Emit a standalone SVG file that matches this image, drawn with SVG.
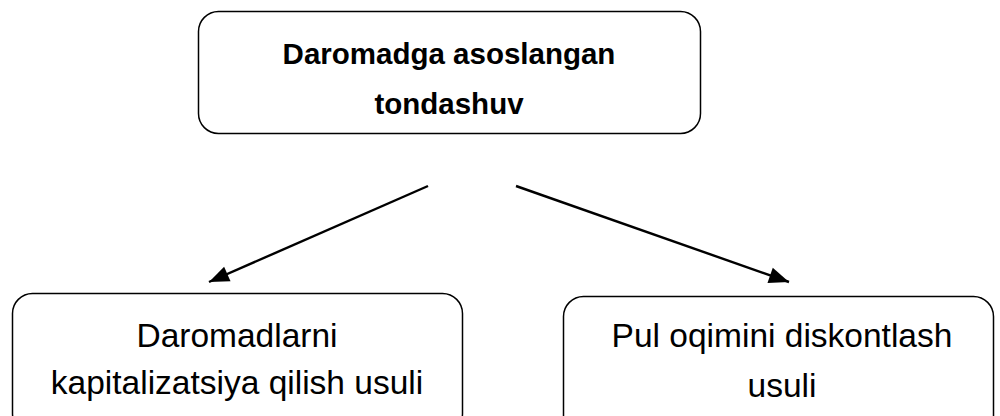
<svg xmlns="http://www.w3.org/2000/svg" width="1000" height="416" viewBox="0 0 1000 416">
<style>
.box{fill:#fff;stroke:#000;stroke-width:1.5}
.t{font-family:"Liberation Sans",Arial,sans-serif;fill:#000;text-anchor:middle}
.b{font-weight:bold;font-size:29.5px}
.r{font-size:33.5px}
.c{stroke:#000;stroke-width:2.4;fill:none;marker-end:url(#ah)}
</style>
<defs>
<marker id="ah" viewBox="0 0 10 10" refX="9" refY="5" markerWidth="10" markerHeight="10" markerUnits="userSpaceOnUse" orient="auto" style="overflow:visible">
<path d="M-11,-3 L9,5 L-11,13 z" fill="#000"/>
</marker>
</defs>
<rect width="1000" height="416" fill="#fff"/>
<g id="top">
<rect class="box" x="198.5" y="11.5" width="502" height="122" rx="20"/>
<text class="t b" x="449" y="64">Daromadga asoslangan</text>
<text class="t b" x="449" y="114">tondashuv</text>
</g>
<g id="left">
<rect class="box" x="12.5" y="293.5" width="450" height="140" rx="20"/>
<text class="t r" x="237" y="347">Daromadlarni</text>
<text class="t r" x="237" y="394">kapitalizatsiya qilish usuli</text>
</g>
<g id="right">
<rect class="box" x="563.5" y="296.5" width="430" height="140" rx="20"/>
<text class="t r" x="782" y="347">Pul oqimini diskontlash</text>
<text class="t r" x="782" y="397">usuli</text>
</g>
<g id="connectors">
<line class="c" x1="428" y1="186" x2="209" y2="282"/>
<line class="c" x1="516" y1="186" x2="789" y2="282"/>
</g>
</svg>
